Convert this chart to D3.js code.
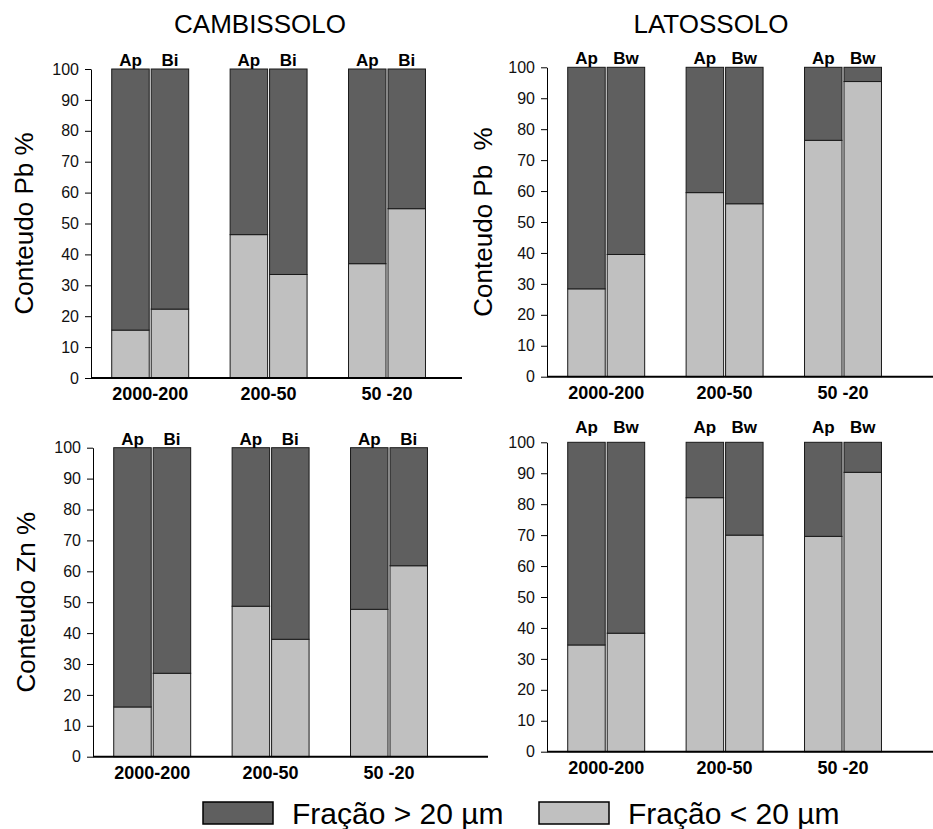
<!DOCTYPE html>
<html>
<head>
<meta charset="utf-8">
<script src="https://cdn.jsdelivr.net/npm/d3@7"></script>
<style>
  html, body { margin: 0; padding: 0; background: #fff; }
  text { font-family: "Liberation Sans", Arial, sans-serif; }
</style>
</head>
<body>
<script>
// Data: percent of metal in the fine fraction (< 20 um); coarse is the rest up to 100
const FRACTIONS = ['2000-200', '200-50', '50 -20'];
const HOR_CAMB  = ['Ap', 'Bi'];
const HOR_LATO  = ['Ap', 'Bw'];

const PB_CAMB = [[15.5, 22.3], [46.4, 33.5], [37.0, 54.8]];
const PB_LATO = [[28.4, 39.5], [59.5, 55.9], [76.4, 95.4]];
const ZN_CAMB = [[16.1, 27.0], [48.7, 38.0], [47.7, 61.8]];
const ZN_LATO = [[34.5, 38.3], [82.1, 70.0], [69.6, 90.3]];

const Y_TICKS = d3.range(0, 101, 10);
const LEGEND  = ['Fração > 20 µm', 'Fração < 20 µm'];

// Colors
const DARK  = '#5f5f5f';
const LIGHT = '#c0c0c0';
const FG    = '#000';

const W = 933, H = 829;

const svg = d3.select('body').append('svg')
  .attr('width', W)
  .attr('height', H);

svg.append('rect').attr('width', W).attr('height', H).attr('fill', '#fff');

// panel layout (axis x, top of 100, baseline 0, end of x axis)
const panels = [
  { data: PB_CAMB, hor: HOR_CAMB, left: 91,  top: 69,    bottom: 378,   axEnd: 462, label: 'Conteudo Pb %',  lx: 33,  lab: 3 },
  { data: PB_LATO, hor: HOR_LATO, left: 547, top: 67.3,  bottom: 376.7, axEnd: 933, label: 'Conteudo Pb  %', lx: 492, lab: 3 },
  { data: ZN_CAMB, hor: HOR_CAMB, left: 93,  top: 447.7, bottom: 756.7, axEnd: 488, label: 'Conteudo Zn %',  lx: 35,  lab: 3 },
  { data: ZN_LATO, hor: HOR_LATO, left: 547, top: 442.3, bottom: 751.7, axEnd: 933, label: null,             lx: 0,   lab: 9 }
];

panels.forEach(p => {
  const g = svg.append('g');

  const y = d3.scaleLinear().domain([0, 100]).range([p.bottom, p.top]);

  const x = d3.scaleBand()
    .domain(FRACTIONS)
    .range([p.left, p.left + 355.2])
    .paddingInner(0.35)
    .paddingOuter(0.175);

  const xi = d3.scaleBand()
    .domain(p.hor)
    .range([0, x.bandwidth()])
    .paddingInner(0.05);

  // rows for stacking
  const rows = [];
  FRACTIONS.forEach((f, i) => {
    p.hor.forEach((h, j) => {
      rows.push({ frac: f, hor: h, fine: p.data[i][j], coarse: 100 - p.data[i][j] });
    });
  });

  const series = d3.stack().keys(['fine', 'coarse'])(rows);
  const fill = { fine: LIGHT, coarse: DARK };

  series.forEach(s => {
    g.append('g')
      .selectAll('rect')
      .data(s)
      .join('rect')
        .attr('x', d => x(d.data.frac) + xi(d.data.hor))
        .attr('y', d => y(d[1]))
        .attr('width', xi.bandwidth())
        .attr('height', d => y(d[0]) - y(d[1]))
        .attr('fill', fill[s.key])
        .attr('stroke', '#1a1a1a')
        .attr('stroke-width', 1);
  });

  // horizon labels
  g.append('g')
    .selectAll('text')
    .data(rows)
    .join('text')
      .attr('x', d => x(d.frac) + xi(d.hor) + xi.bandwidth() / 2)
      .attr('y', p.top - p.lab)
      .attr('text-anchor', 'middle')
      .attr('font-size', '17px')
      .attr('font-weight', 'bold')
      .attr('fill', FG)
      .text(d => d.hor);

  // y axis
  g.append('g')
    .attr('transform', `translate(${p.left},0)`)
    .call(d3.axisLeft(y).tickValues(Y_TICKS).tickSize(6).tickSizeOuter(0).tickPadding(6))
    .call(a => a.selectAll('text').attr('font-size', '16px').attr('fill', '#111').attr('font-family', '"Liberation Sans", Arial, sans-serif'))
    .call(a => a.selectAll('line, path').attr('stroke', FG));

  // x axis
  g.append('line')
    .attr('x1', p.left).attr('x2', p.axEnd)
    .attr('y1', p.bottom).attr('y2', p.bottom)
    .attr('stroke', FG)
    .attr('stroke-width', 2);

  g.append('g')
    .selectAll('text')
    .data(FRACTIONS)
    .join('text')
      .attr('x', d => x(d) + x.bandwidth() / 2)
      .attr('y', p.bottom + 22)
      .attr('text-anchor', 'middle')
      .attr('font-size', '18px')
      .attr('font-weight', 'bold')
      .attr('fill', FG)
      .text(d => d);

  if (p.label) {
    g.append('text')
      .attr('transform', `translate(${p.lx},${(p.top + p.bottom) / 2}) rotate(-90)`)
      .attr('text-anchor', 'middle')
      .attr('font-size', '26px')
      .attr('fill', FG)
      .style('white-space', 'pre')
      .text(p.label);
  }
});

// Titles
svg.append('text')
  .attr('x', 260).attr('y', 33)
  .attr('text-anchor', 'middle')
  .attr('font-size', '26px')
  .attr('fill', FG)
  .text('CAMBISSOLO');

svg.append('text')
  .attr('x', 711).attr('y', 33)
  .attr('text-anchor', 'middle')
  .attr('font-size', '26px')
  .attr('fill', FG)
  .text('LATOSSOLO');

// Legend
const legX = [203, 539];
const legFill = [DARK, LIGHT];
LEGEND.forEach((t, i) => {
  svg.append('rect')
    .attr('x', legX[i]).attr('y', 802)
    .attr('width', 70).attr('height', 22)
    .attr('fill', legFill[i])
    .attr('stroke', FG)
    .attr('stroke-width', 1.5);
  svg.append('text')
    .attr('x', legX[i] + 89).attr('y', 824)
    .attr('font-size', '30px')
    .attr('fill', FG)
    .text(t);
});
</script>
</body>
</html>
